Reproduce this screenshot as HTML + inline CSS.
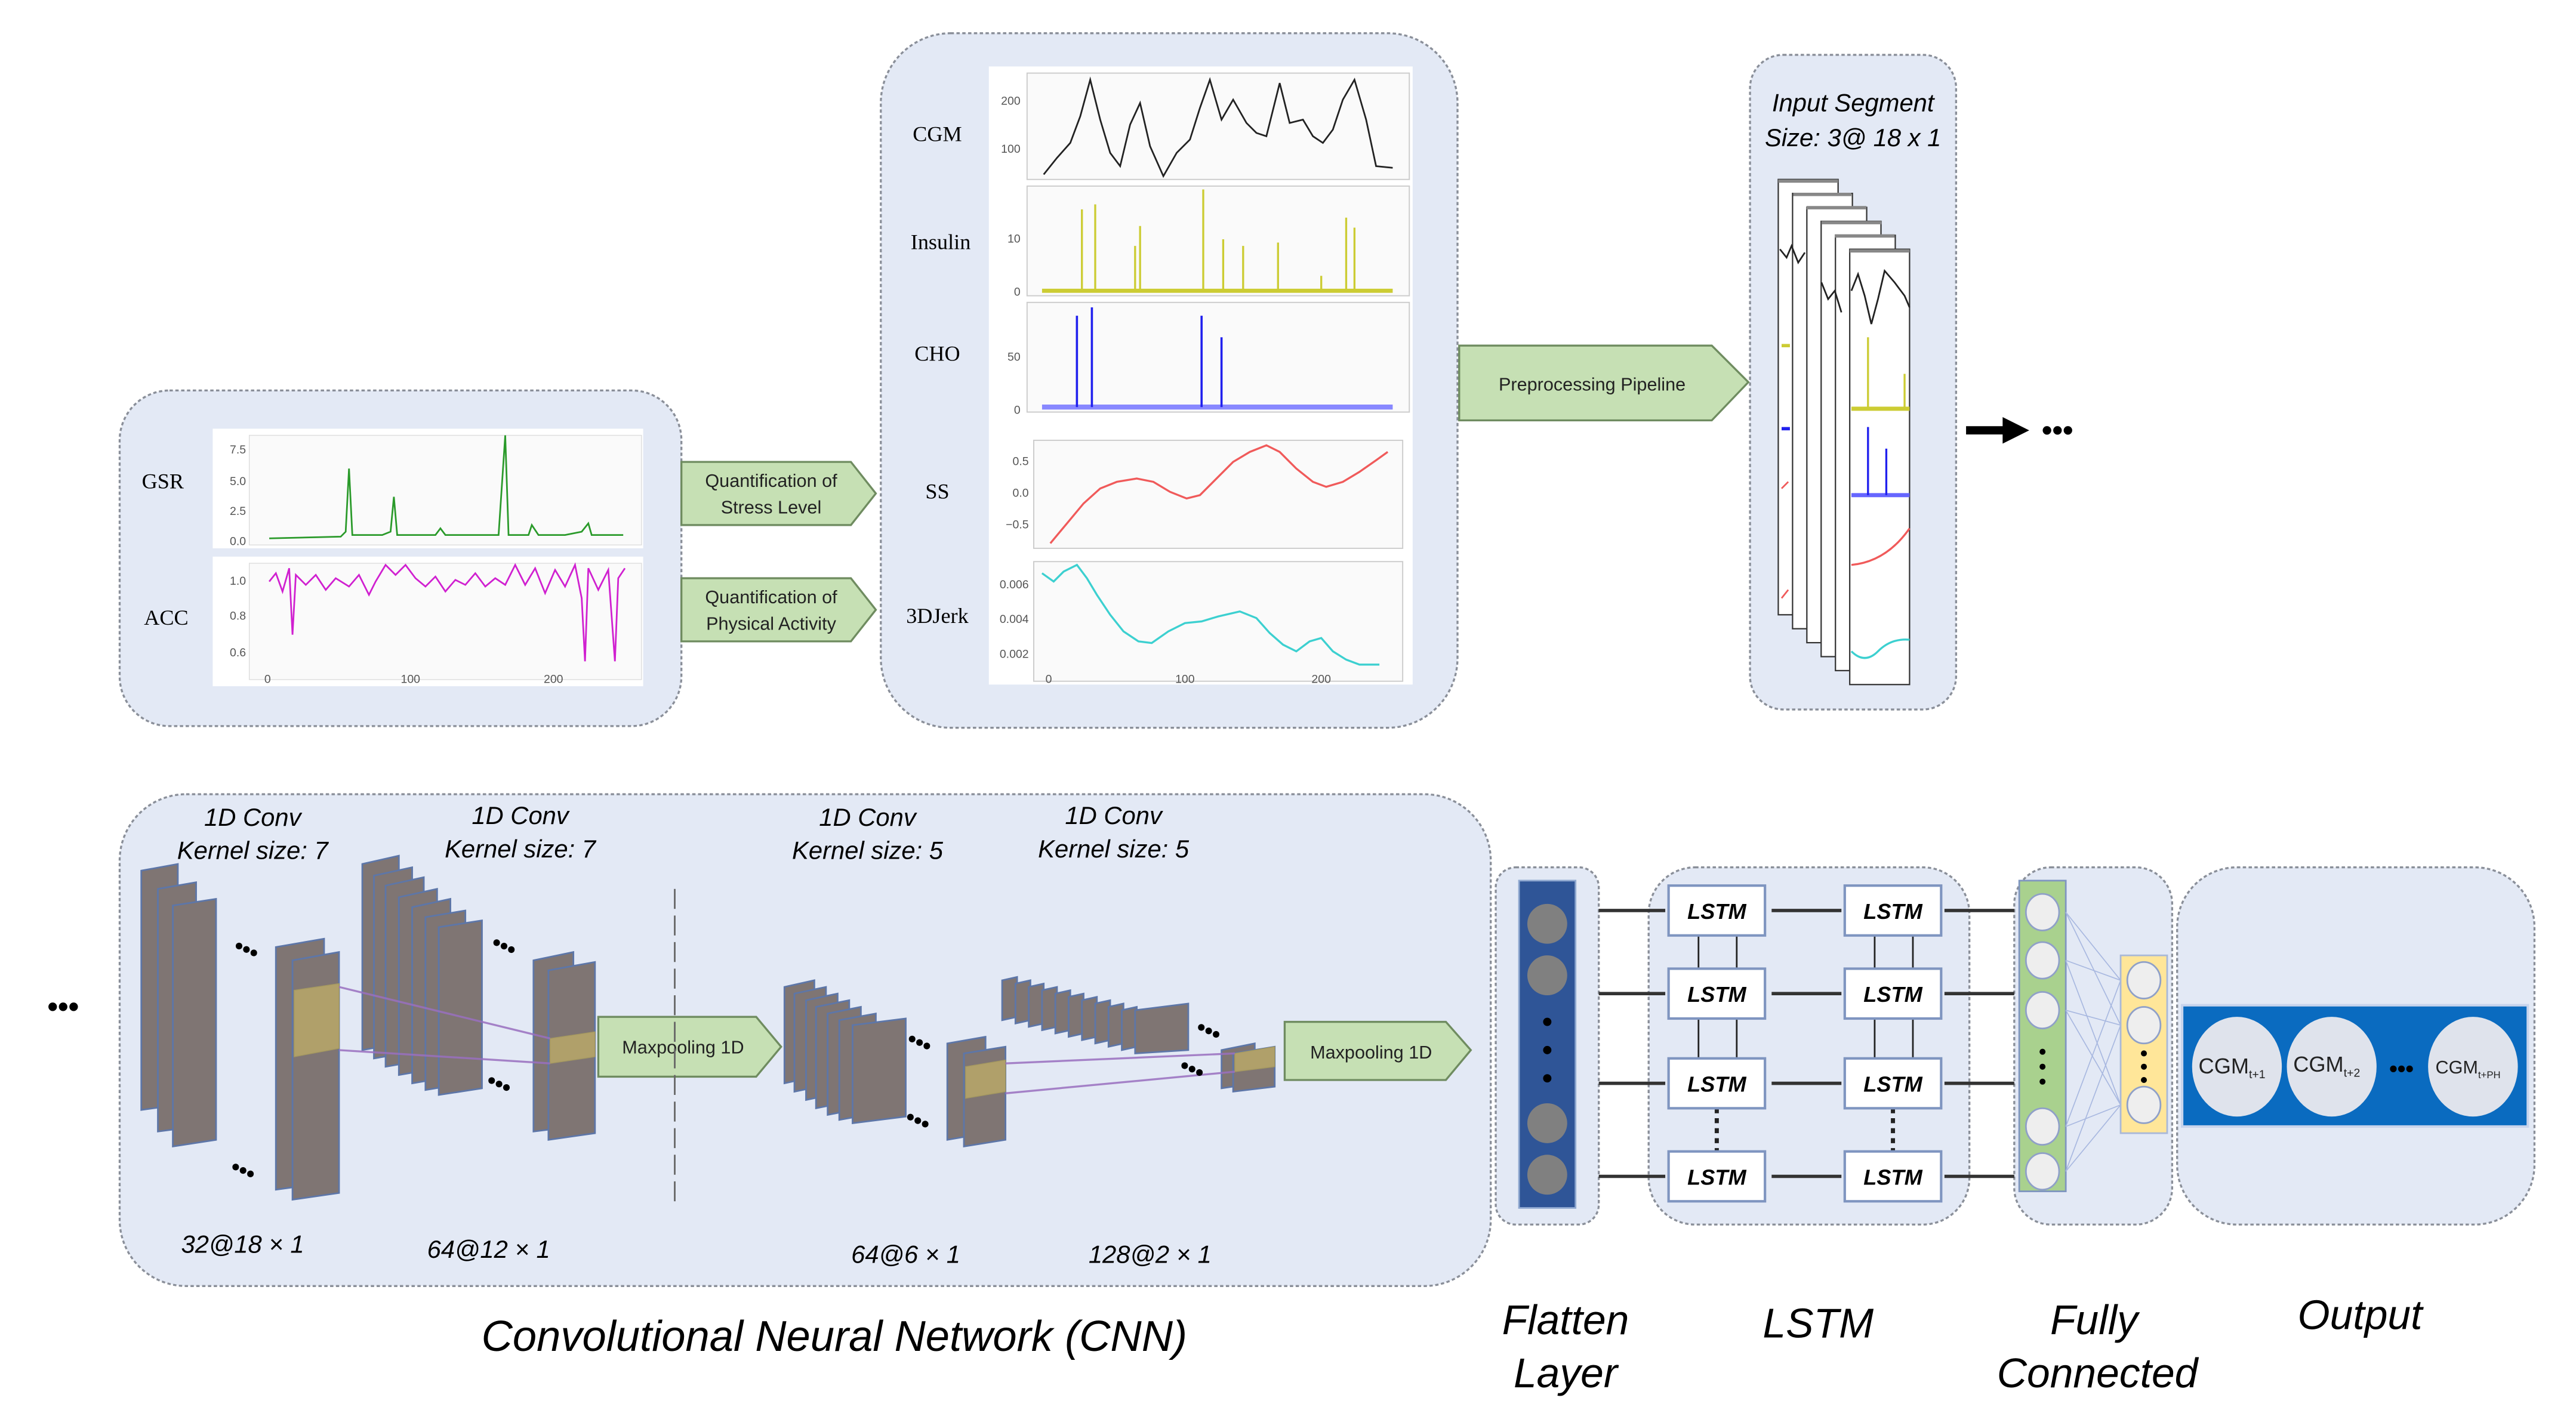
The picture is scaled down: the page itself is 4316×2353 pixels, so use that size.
<!DOCTYPE html>
<html><head><meta charset="utf-8"><style>
html,body{margin:0;padding:0;background:#fff;width:4316px;height:2353px;overflow:hidden}
svg{display:block}
text{font-family:"Liberation Sans",Arial,sans-serif}
.it{font-style:italic}
.sf text, text.sf{font-family:"Liberation Serif",serif}
</style></head><body>
<svg width="4316" height="2353" viewBox="0 0 1550 845" preserveAspectRatio="none" xmlns="http://www.w3.org/2000/svg">
<rect width="1550" height="845" fill="#fff"/>
<g fill="#e3e9f5" stroke="#8a8f99" stroke-width="1.2" stroke-dasharray="2,1.5">
<rect x="72" y="235" width="338" height="202" rx="30"/>
<rect x="530" y="20" width="347" height="418" rx="42"/>
<rect x="1053" y="33" width="124" height="394" rx="20"/>
<rect x="72" y="478" width="825" height="296" rx="40"/>
<rect x="900" y="522" width="62" height="215" rx="12"/>
<rect x="992" y="522" width="193" height="215" rx="28"/>
<rect x="1212" y="522" width="95" height="215" rx="22"/>
<rect x="1310" y="522" width="215" height="215" rx="36"/>
</g>

<rect x="128" y="258" width="259" height="72" fill="#fff"/>
<rect x="128" y="335" width="259" height="78" fill="#fff"/>
<rect x="150" y="262" width="236" height="66" fill="#fafafa" stroke="#ddd" stroke-width="0.5"/>
<rect x="150" y="339" width="236" height="70" fill="#fafafa" stroke="#ddd" stroke-width="0.5"/>
<g font-size="7" fill="#555" text-anchor="end">
<text x="148" y="273">7.5</text><text x="148" y="292">5.0</text><text x="148" y="310">2.5</text><text x="148" y="328">0.0</text>
<text x="148" y="352">1.0</text><text x="148" y="373">0.8</text><text x="148" y="395">0.6</text></g>
<g font-size="7" fill="#555" text-anchor="middle"><text x="161" y="411">0</text><text x="247" y="411">100</text><text x="333" y="411">200</text></g>
<polyline fill="none" stroke="#2a9a2a" stroke-width="1" points="162,324 205,323 208,320 210,282 212,322 230,322 235,320 237,299 239,322 262,322 265,318 268,322 300,322 304,262 306,322 318,322 320,316 324,322 340,322 350,320 354,315 356,322 375,322"/>
<polyline fill="none" stroke="#d020d0" stroke-width="1" points="162,350 166,345 170,356 174,342 176,382 178,346 184,352 190,346 196,355 202,348 210,353 216,346 222,358 226,350 232,340 238,346 244,340 250,348 256,353 262,347 268,356 274,349 280,352 286,345 292,353 298,348 304,352 310,340 316,352 322,342 328,357 334,343 340,353 346,340 350,360 352,398 354,342 360,355 366,343 370,398 372,348 376,342"/>
<text x="98" y="294" font-size="13" class="sf" text-anchor="middle">GSR</text>
<text x="100" y="376" font-size="13" class="sf" text-anchor="middle">ACC</text>

<g fill="#c6e0b4" stroke="#6f8c60" stroke-width="1.2">
<polygon points="410,278 512,278 527,297 512,316 410,316"/>
<polygon points="410,348 512,348 527,367 512,386 410,386"/>
<polygon points="878,208 1030,208 1052,230 1030,253 878,253"/>
<polygon points="360,612 455,612 470,630 455,648 360,648"/>
<polygon points="773,615 870,615 885,632 870,650 773,650"/>
</g>
<g font-size="11" fill="#222" text-anchor="middle">
<text x="464" y="293">Quantification of</text><text x="464" y="309">Stress Level</text>
<text x="464" y="363">Quantification of</text><text x="464" y="379">Physical Activity</text>
<text x="958" y="235">Preprocessing Pipeline</text>
<text x="411" y="634">Maxpooling 1D</text>
<text x="825" y="637">Maxpooling 1D</text>
</g>

<rect x="595" y="40" width="255" height="372" fill="#fff"/>
<g fill="#fafafa" stroke="#ccc" stroke-width="0.7">
<rect x="618" y="44" width="230" height="64"/><rect x="618" y="112" width="230" height="66"/>
<rect x="618" y="182" width="230" height="66"/><rect x="622" y="265" width="222" height="65"/>
<rect x="622" y="338" width="222" height="72"/></g>
<g font-size="13" class="sf" text-anchor="middle">
<text x="564" y="85">CGM</text><text x="566" y="150">Insulin</text><text x="564" y="217">CHO</text>
<text x="564" y="300">SS</text><text x="564" y="375">3DJerk</text></g>
<g font-size="7" fill="#555" text-anchor="end">
<text x="614" y="63">200</text><text x="614" y="92">100</text><text x="614" y="146">10</text><text x="614" y="178">0</text>
<text x="614" y="217">50</text><text x="614" y="249">0</text>
<text x="619" y="280">0.5</text><text x="619" y="299">0.0</text><text x="619" y="318">−0.5</text>
<text x="619" y="354">0.006</text><text x="619" y="375">0.004</text><text x="619" y="396">0.002</text></g>
<g font-size="7" fill="#555" text-anchor="middle"><text x="631" y="411">0</text><text x="713" y="411">100</text><text x="795" y="411">200</text></g>
<polyline fill="none" stroke="#222" stroke-width="1" points="628,105 636,95 644,86 650,70 656,48 662,72 668,92 674,100 680,75 686,62 692,88 700,106 708,92 716,84 722,65 728,48 735,72 742,60 750,74 756,80 762,82 770,50 776,74 784,72 790,82 796,86 802,78 808,60 815,48 822,72 828,100 838,101"/>
<g stroke="#cccc33" stroke-width="1.2"><line x1="627" y1="175" x2="838" y2="175" stroke-width="2.5"/>
<line x1="651" y1="175" x2="651" y2="126"/><line x1="659" y1="175" x2="659" y2="123"/><line x1="683" y1="175" x2="683" y2="148"/><line x1="686" y1="175" x2="686" y2="136"/><line x1="724" y1="175" x2="724" y2="114"/><line x1="736" y1="175" x2="736" y2="144"/><line x1="748" y1="175" x2="748" y2="148"/><line x1="769" y1="175" x2="769" y2="146"/><line x1="795" y1="175" x2="795" y2="166"/><line x1="810" y1="175" x2="810" y2="131"/><line x1="815" y1="175" x2="815" y2="137"/></g>
<g stroke="#2020ee" stroke-width="1.3"><line x1="627" y1="245" x2="838" y2="245" stroke-width="3" stroke="#8888ff"/>
<line x1="648" y1="245" x2="648" y2="190"/><line x1="657" y1="245" x2="657" y2="185"/><line x1="723" y1="245" x2="723" y2="190"/><line x1="735" y1="245" x2="735" y2="203"/></g>
<polyline fill="none" stroke="#f05a5a" stroke-width="1.2" points="632,327 642,315 652,303 662,294 672,290 684,288 694,290 704,296 714,300 722,298 732,288 742,278 752,272 762,268 770,272 780,282 790,290 798,293 808,290 818,284 828,277 835,272"/>
<polyline fill="none" stroke="#3cd0d0" stroke-width="1.2" points="627,345 634,350 640,344 648,340 654,348 660,358 668,370 676,380 685,386 693,387 703,380 713,375 723,374 733,371 746,368 756,372 764,381 772,388 780,392 788,386 795,384 802,392 810,397 818,400 830,400"/>

<text x="1115" y="67" font-size="15" class="it" text-anchor="middle">Input Segment</text>
<text x="1115" y="88" font-size="15" class="it" text-anchor="middle">Size: 3@ 18 x 1</text>
<g fill="#fff" stroke="#333" stroke-width="0.8">
<rect x="1070" y="108" width="36" height="262"/><rect x="1078.6" y="116.4" width="36" height="262"/>
<rect x="1087.2" y="124.8" width="36" height="262"/><rect x="1095.8" y="133.2" width="36" height="262"/>
<rect x="1104.4" y="141.6" width="36" height="262"/><rect x="1113" y="150" width="36" height="262"/></g>
<g stroke="#888" stroke-width="2"><line x1="1070" y1="109" x2="1106" y2="109"/><line x1="1079" y1="117" x2="1114" y2="117"/><line x1="1087" y1="125" x2="1123" y2="125"/><line x1="1096" y1="134" x2="1132" y2="134"/><line x1="1104" y1="142" x2="1140" y2="142"/><line x1="1113" y1="151" x2="1149" y2="151"/></g>
<polyline fill="none" stroke="#222" stroke-width="1" points="1071,150 1075,155 1078,148 1082,158 1086,152"/>
<polyline fill="none" stroke="#222" stroke-width="1" points="1096,170 1100,180 1104,175 1108,188"/>
<polyline fill="none" stroke="#222" stroke-width="1" points="1114,175 1118,165 1122,178 1126,195 1130,180 1134,163 1140,170 1146,178 1149,185"/>
<g stroke="#cccc33" stroke-width="1.2"><line x1="1114" y1="246" x2="1149" y2="246" stroke-width="2.5"/><line x1="1124" y1="246" x2="1124" y2="203"/><line x1="1146" y1="246" x2="1146" y2="225"/><line x1="1072" y1="208" x2="1077" y2="208" stroke-width="2"/></g>
<g stroke="#2020ee" stroke-width="1.2"><line x1="1114" y1="298" x2="1149" y2="298" stroke-width="2.5" stroke="#6666ff"/><line x1="1124" y1="298" x2="1124" y2="257"/><line x1="1135" y1="298" x2="1135" y2="270"/><line x1="1072" y1="258" x2="1077" y2="258" stroke-width="2"/></g>
<path d="M1114,340 Q1135,338 1149,318" fill="none" stroke="#f05a5a" stroke-width="1.2"/>
<path d="M1114,392 Q1122,400 1130,392 T1149,385" fill="none" stroke="#3cd0d0" stroke-width="1.2"/>
<path d="M1072,294 l4,-4 M1072,360 l4,-5" stroke="#f05a5a" stroke-width="1"/>
<line x1="1183" y1="259" x2="1208" y2="259" stroke="#000" stroke-width="5"/>
<polygon points="1205,251 1221,259 1205,267" fill="#000"/>
<text x="1238" y="265" font-size="18" font-weight="bold" text-anchor="middle">•••</text>
<text x="38" y="612" font-size="18" font-weight="bold" text-anchor="middle">•••</text>

<g font-size="15" class="it" text-anchor="middle">
<text x="152" y="497">1D Conv</text><text x="152" y="517">Kernel size: 7</text>
<text x="313" y="496">1D Conv</text><text x="313" y="516">Kernel size: 7</text>
<text x="522" y="497">1D Conv</text><text x="522" y="517">Kernel size: 5</text>
<text x="670" y="496">1D Conv</text><text x="670" y="516">Kernel size: 5</text>
<text x="146" y="754">32@18 × 1</text><text x="294" y="757">64@12 × 1</text>
<text x="545" y="760">64@6 × 1</text><text x="692" y="760">128@2 × 1</text>
</g>
<line x1="406" y1="535" x2="406" y2="727" stroke="#666" stroke-width="1" stroke-dasharray="12,4"/>
<g fill="#7f7573" stroke="#5d76a8" stroke-width="1">
<polygon points="85,524 107,520 107,665 85,668"/><polygon points="95,535 118,531 118,678 95,681"/><polygon points="104,545 130,541 130,686 104,690"/>
<polygon points="166,570 195,565 195,712 166,716"/><polygon points="176,578 204,573 204,718 176,722"/>
<polygon points="218,520 240,515 240,628 218,632"/><polygon points="225,527 248,522 248,633 225,637"/><polygon points="232,533 255,528 255,638 232,642"/><polygon points="240,540 263,535 263,643 240,647"/><polygon points="248,546 271,541 271,648 248,652"/><polygon points="256,552 280,548 280,652 256,656"/><polygon points="264,558 290,554 290,655 264,659"/>
<polygon points="321,578 345,573 345,678 321,681"/><polygon points="330,584 358,579 358,682 330,686"/>
<polygon points="472,594 490,590 490,648 472,652"/><polygon points="478,598 497,594 497,653 478,657"/><polygon points="485,602 504,598 504,658 485,662"/><polygon points="491,606 511,602 511,663 491,667"/><polygon points="498,610 518,606 518,667 498,671"/><polygon points="505,614 527,610 527,670 505,674"/><polygon points="513,617 545,613 545,672 513,676"/>
<polygon points="570,628 593,624 593,682 570,686"/><polygon points="580,634 605,630 605,686 580,690"/>
<polygon points="603,590 612,588 612,612 603,614"/><polygon points="611,592 620,590 620,614 611,616"/><polygon points="619,594 628,592 628,616 619,618"/><polygon points="627,596 636,594 636,618 627,620"/><polygon points="635,598 644,596 644,620 635,622"/><polygon points="643,600 652,598 652,622 643,624"/><polygon points="651,602 660,600 660,624 651,626"/><polygon points="659,604 668,602 668,626 659,628"/><polygon points="667,606 676,604 676,628 667,630"/><polygon points="675,608 684,606 684,630 675,632"/><polygon points="683,608 715,604 715,632 683,634"/>
<polygon points="735,632 755,628 755,652 735,655"/><polygon points="742,634 767,630 767,654 742,657"/>
</g>
<g fill="#b0a06a" stroke="#a49860" stroke-width="0.5">
<polygon points="177,596 204,592 204,631 177,636"/>
<polygon points="331,625 358,621 358,636 331,640"/>
<polygon points="581,642 605,638 605,657 581,661"/>
<polygon points="743,634 767,630 767,642 743,645"/>
</g>
<g stroke="#9a70c0" stroke-width="1.2" opacity="0.85">
<line x1="204" y1="594" x2="331" y2="625"/><line x1="204" y1="632" x2="331" y2="640"/>
<line x1="605" y1="640" x2="743" y2="634"/><line x1="605" y1="658" x2="743" y2="645"/>
</g>
<g font-size="14" font-weight="bold" text-anchor="middle">
<text x="148" y="576" transform="rotate(25 148 572)">•••</text>
<text x="146" y="709" transform="rotate(25 146 705)">•••</text>
<text x="303" y="574" transform="rotate(25 303 570)">•••</text>
<text x="300" y="657" transform="rotate(25 300 653)">•••</text>
<text x="553" y="632" transform="rotate(25 553 628)">•••</text>
<text x="552" y="679" transform="rotate(25 552 675)">•••</text>
<text x="727" y="625" transform="rotate(25 727 621)">•••</text>
<text x="717" y="648" transform="rotate(25 717 644)">•••</text>
</g>
<text x="502" y="813" font-size="26" class="it" text-anchor="middle">Convolutional Neural Network (CNN)</text>

<rect x="914" y="530" width="34" height="197" fill="#2f5597" stroke="#8fa8d0" stroke-width="1"/>
<g fill="#808080"><ellipse cx="931" cy="556" rx="12" ry="12"/><ellipse cx="931" cy="587" rx="12" ry="12"/><ellipse cx="931" cy="676" rx="12" ry="12"/><ellipse cx="931" cy="707" rx="12" ry="12"/></g>
<g fill="#000"><circle cx="931" cy="615" r="2.5"/><circle cx="931" cy="632" r="2.5"/><circle cx="931" cy="649" r="2.5"/></g>

<g stroke="#333" stroke-width="2" fill="none">
<line x1="962" y1="548" x2="1002" y2="548"/><line x1="962" y1="598" x2="1002" y2="598"/><line x1="962" y1="652" x2="1002" y2="652"/><line x1="962" y1="708" x2="1002" y2="708"/>
<line x1="1066" y1="548" x2="1108" y2="548"/><line x1="1066" y1="598" x2="1108" y2="598"/><line x1="1066" y1="652" x2="1108" y2="652"/><line x1="1066" y1="708" x2="1108" y2="708"/>
<line x1="1170" y1="548" x2="1212" y2="548"/><line x1="1170" y1="598" x2="1212" y2="598"/><line x1="1170" y1="652" x2="1212" y2="652"/><line x1="1170" y1="708" x2="1212" y2="708"/>
</g>
<g stroke="#222" stroke-width="1">
<line x1="1022" y1="563" x2="1022" y2="583"/><line x1="1045" y1="563" x2="1045" y2="583"/><line x1="1022" y1="613" x2="1022" y2="637"/><line x1="1045" y1="613" x2="1045" y2="637"/>
<line x1="1128" y1="563" x2="1128" y2="583"/><line x1="1151" y1="563" x2="1151" y2="583"/><line x1="1128" y1="613" x2="1128" y2="637"/><line x1="1151" y1="613" x2="1151" y2="637"/>
</g>
<g stroke="#222" stroke-width="2.5" stroke-dasharray="3,3"><line x1="1033" y1="667" x2="1033" y2="693"/><line x1="1139" y1="667" x2="1139" y2="693"/></g>
<g fill="#fff" stroke="#7f95c0" stroke-width="1.5">
<rect x="1004" y="533" width="58" height="30"/><rect x="1110" y="533" width="58" height="30"/>
<rect x="1004" y="583" width="58" height="30"/><rect x="1110" y="583" width="58" height="30"/>
<rect x="1004" y="637" width="58" height="30"/><rect x="1110" y="637" width="58" height="30"/>
<rect x="1004" y="693" width="58" height="30"/><rect x="1110" y="693" width="58" height="30"/>
</g>
<g font-size="13" font-weight="bold" class="it" text-anchor="middle">
<text x="1033" y="553">LSTM</text><text x="1139" y="553">LSTM</text>
<text x="1033" y="603">LSTM</text><text x="1139" y="603">LSTM</text>
<text x="1033" y="657">LSTM</text><text x="1139" y="657">LSTM</text>
<text x="1033" y="713">LSTM</text><text x="1139" y="713">LSTM</text>
</g>

<rect x="1215" y="530" width="28" height="187" fill="#a9d18e" stroke="#7f95c0" stroke-width="1"/>
<rect x="1276" y="575" width="28" height="107" fill="#ffe699" stroke="#a9b8d8" stroke-width="1"/>
<g stroke="#a8b8e0" stroke-width="0.6">
<line x1="1243" y1="549" x2="1276" y2="590"/><line x1="1243" y1="549" x2="1276" y2="617"/><line x1="1243" y1="578" x2="1276" y2="665"/><line x1="1243" y1="578" x2="1276" y2="590"/><line x1="1243" y1="608" x2="1276" y2="617"/><line x1="1243" y1="608" x2="1276" y2="665"/><line x1="1243" y1="678" x2="1276" y2="590"/><line x1="1243" y1="678" x2="1276" y2="665"/><line x1="1243" y1="705" x2="1276" y2="617"/><line x1="1243" y1="705" x2="1276" y2="665"/>
</g>
<g fill="#eeeeee" stroke="#8fa0c8" stroke-width="1">
<ellipse cx="1229" cy="549" rx="10" ry="11"/><ellipse cx="1229" cy="578" rx="10" ry="11"/><ellipse cx="1229" cy="608" rx="10" ry="11"/><ellipse cx="1229" cy="678" rx="10" ry="11"/><ellipse cx="1229" cy="705" rx="10" ry="11"/>
<ellipse cx="1290" cy="590" rx="10" ry="11"/><ellipse cx="1290" cy="617" rx="10" ry="11"/><ellipse cx="1290" cy="665" rx="10" ry="11"/>
</g>
<g fill="#000"><circle cx="1229" cy="633" r="1.8"/><circle cx="1229" cy="642" r="1.8"/><circle cx="1229" cy="651" r="1.8"/><circle cx="1290" cy="634" r="1.8"/><circle cx="1290" cy="642" r="1.8"/><circle cx="1290" cy="650" r="1.8"/></g>

<rect x="1313" y="605" width="208" height="73" fill="#0a6bc0" stroke="#c8d4ec" stroke-width="1.5"/>
<g fill="#dfe3ec"><ellipse cx="1346" cy="642" rx="27" ry="30"/><ellipse cx="1403" cy="642" rx="27" ry="30"/><ellipse cx="1488" cy="642" rx="27" ry="30"/></g>
<g font-size="13" fill="#222" text-anchor="middle">
<text x="1343" y="646">CGM<tspan font-size="7" dy="3">t+1</tspan></text>
<text x="1400" y="645">CGM<tspan font-size="7" dy="3">t+2</tspan></text>
<text x="1485" y="646" font-size="11">CGM<tspan font-size="6" dy="3">t+PH</tspan></text>
</g>
<text x="1445" y="648" font-size="14" font-weight="bold" text-anchor="middle">•••</text>

<g font-size="25" class="it" text-anchor="middle">
<text x="942" y="803">Flatten</text><text x="942" y="835">Layer</text>
<text x="1094" y="805">LSTM</text>
<text x="1260" y="803">Fully</text><text x="1262" y="835">Connected</text>
<text x="1420" y="800">Output</text>
</g>
</svg>
</body></html>
